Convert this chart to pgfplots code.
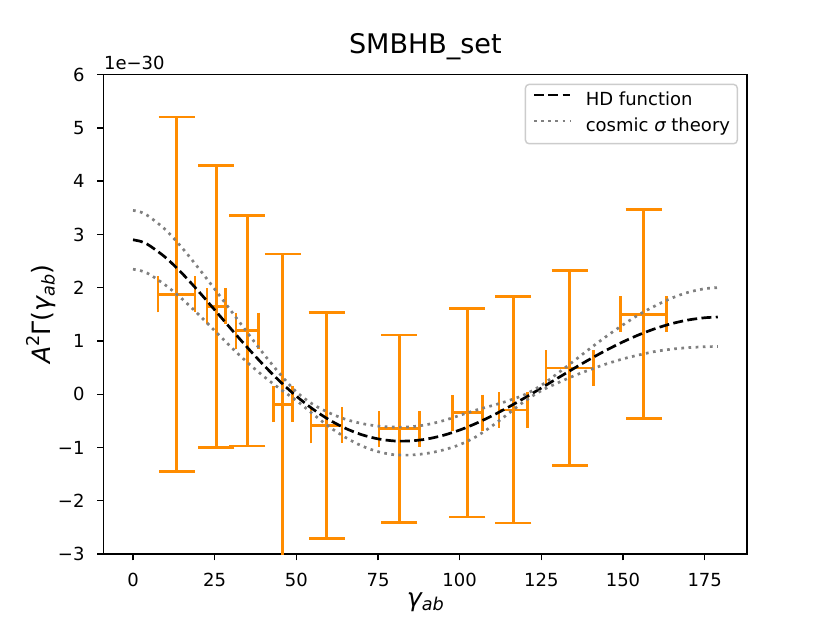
\documentclass[border=0pt]{standalone}
\usepackage{pgfplots}
\pgfplotsset{compat=1.18}
\usepackage{pgfplotstable}
\usepackage{fontspec}
\setmainfont{DejaVu Sans}
\definecolor{dorange}{HTML}{FF8C00}
\definecolor{mgray}{HTML}{808080}
\definecolor{lgframe}{HTML}{CCCCCC}

\pgfplotstableread{
x y ex eyp eym
13.35 1.875 5.66 3.332 3.332
25.5 1.65 2.8 2.65 2.65
34.99 1.1965 3.43 2.166 2.166
45.85 -0.1875 2.9 2.82 3.0
59.26 -0.584 4.75 2.12 2.12
81.51 -0.649 6.22 1.762 1.762
102.33 -0.347 4.6 1.959 1.959
116.41 -0.294 4.33 2.125 2.125
133.64 0.494 7.24 1.831 1.831
156.29 1.504 7.04 1.96 1.96
}\bins

\pgfplotstableread{
g hd up lo
0 2.900 3.453 2.347
2.5 2.8676 3.4176 2.3176
5 2.7935 3.3335 2.2535
10 2.5665 3.0865 2.0465
15 2.2717 2.7517 1.7917
20 1.9377 2.3727 1.5027
25 1.5846 1.9746 1.1946
30 1.2274 1.5674 0.8874
35 0.8782 1.1582 0.5982
40 0.5467 0.7567 0.3367
45 0.2400 0.3800 0.1000
50 -0.0357 0.0443 -0.1157
55 -0.2760 -0.1860 -0.3660
60 -0.4777 -0.3477 -0.6077
65 -0.6390 -0.4690 -0.8090
70 -0.7590 -0.5490 -0.9690
75 -0.8378 -0.5978 -1.0778
80 -0.8764 -0.6164 -1.1364
85 -0.8763 -0.6113 -1.1413
90 -0.8402 -0.5702 -1.1102
95 -0.7709 -0.4959 -1.0459
100 -0.6722 -0.3972 -0.9472
105 -0.5478 -0.2978 -0.7978
110 -0.4021 -0.2121 -0.5921
115 -0.2394 -0.1194 -0.3594
120 -0.0646 -0.0046 -0.1246
125 0.1177 0.1677 0.0677
130 0.3029 0.3929 0.2129
135 0.4864 0.6264 0.3464
140 0.6639 0.8639 0.4639
145 0.8311 1.0911 0.5711
150 0.9843 1.3043 0.6643
155 1.1200 1.5000 0.7400
160 1.2354 1.6654 0.8054
165 1.3278 1.8078 0.8478
170 1.3952 1.9152 0.8752
175 1.4363 1.9813 0.8913
179 1.4494 2.0024 0.8964
}\hd

\begin{document}
\begin{tikzpicture}
\path[use as bounding box] (0,0) rectangle (460.8bp,345.6bp);
\begin{axis}[
  at={(57.6bp,38.016bp)}, anchor=south west,
  width=357.12bp, height=266.112bp, scale only axis,
  xmin=-8.95, xmax=187.95, ymin=-3, ymax=6,
  axis line style={line width=0.8bp, black},
  every tick/.style={line width=0.8bp, black},
  major tick length=3.5bp,
  tick align=outside,
  xtick pos=bottom, ytick pos=left,
  xtick={0,25,50,75,100,125,150,175},
  xticklabels={0,25,50,75,100,125,150,175},
  ytick={-3,-2,-1,0,1,2,3,4,5,6},
  yticklabels={−3,−2,−1,0,1,2,3,4,5,6},
  tick label style={font=\fontsize{10bp}{12bp}\selectfont},
  xticklabel style={inner sep=0pt, anchor=north, yshift=-7bp},
  yticklabel style={inner sep=0pt, anchor=east, xshift=-7bp},
  title={SMBHB\_set},
  title style={font=\fontsize{15bp}{18bp}\selectfont, at={(0.5,1)}, anchor=base, yshift=6bp, inner sep=0pt},
  xlabel={{\itshape γ}\raisebox{-0.18em}{\fontsize{9.8bp}{10bp}\selectfont\itshape ab}},
  xlabel style={font=\fontsize{14bp}{16bp}\selectfont, at={(0.5,0)}, anchor=base, yshift=-29bp, inner sep=0pt},
  ylabel={{\itshape A}\raisebox{0.42em}{\fontsize{9.8bp}{10bp}\selectfont 2}Γ({\itshape γ}\raisebox{-0.18em}{\fontsize{9.8bp}{10bp}\selectfont\itshape ab})},
  every axis y label/.style={at={([xshift=-29.8bp]rel axis cs:0,0.5)}, rotate=90, anchor=base, inner sep=0pt, font=\fontsize{14bp}{16bp}\selectfont},
  clip marker paths=true,
  legend cell align=left,
  legend image code/.code={\draw[#1] (0bp,3.3bp) -- (20bp,3.3bp);},
  legend style={at={(1,1)}, anchor=north east, xshift=-5bp, yshift=-5bp,
    draw=lgframe, fill=white, rounded corners=2bp, line width=0.8bp,
    inner xsep=4bp, inner ysep=4.25bp, row sep=4.4bp, column sep=8bp,
    font=\fontsize{10bp}{12bp}\selectfont,
    nodes={inner sep=0pt, text height=7.6bp, text depth=2.4bp}},
  after end axis/.code={
    \node[anchor=base west, inner sep=0pt, font=\fontsize{10bp}{12bp}\selectfont] at (rel axis cs:0,1) [yshift=2.8bp] {1e−30};
  },
]
\addplot[draw=none, mark=none, forget plot,
  error bars/.cd, x dir=both, x explicit, y dir=both, y explicit,
  error bar style={draw=dorange, line width=1.5bp},
  error mark options={rotate=90, draw=dorange, line width=1.5bp, mark size=10bp}]
  table[x=x, y=y, x error=ex, y error plus=eyp, y error minus=eym] {\bins};
\addplot[black, line width=1.5bp, dash pattern=on 5.55bp off 2.4bp, smooth] table[x=g, y=hd] {\hd};
\addlegendentry{HD function}
\addplot[mgray, line width=1.5bp, dash pattern=on 1.5bp off 2.475bp, smooth] table[x=g, y=up] {\hd};
\addlegendentry{cosmic {\itshape σ} theory}
\addplot[mgray, line width=1.5bp, dash pattern=on 1.5bp off 2.475bp, smooth, forget plot] table[x=g, y=lo] {\hd};
\end{axis}
\end{tikzpicture}
\end{document}
